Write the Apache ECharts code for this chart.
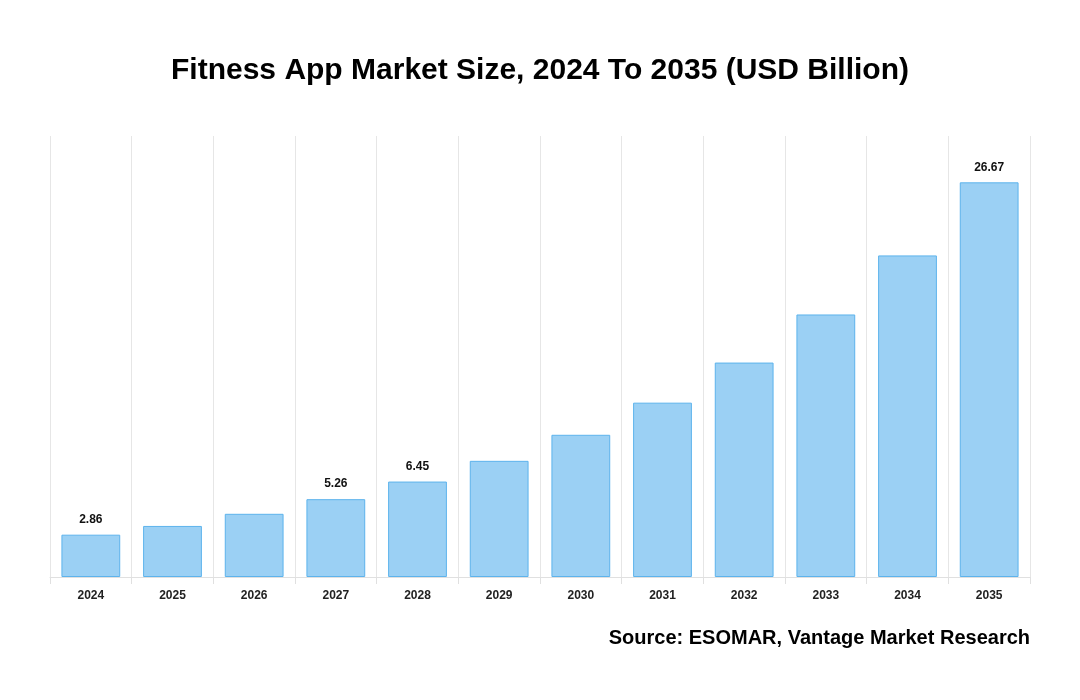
<!DOCTYPE html>
<html><head><meta charset="utf-8">
<script src="https://cdn.jsdelivr.net/npm/echarts@6/dist/echarts.min.js"></script>
<style>html,body{margin:0;padding:0;background:#fff}#c{width:1080px;height:700px}</style>
</head><body><div id="c"></div>
<script>
const categories = ['2024','2025','2026','2027','2028','2029','2030','2031','2032','2033','2034','2035'];
const values = [2.86, 3.45, 4.27, 5.26, 6.45, 7.85, 9.61, 11.78, 14.49, 17.74, 21.73, 26.67];
const labelledYears = ['2024','2027','2028','2035'];

const chart = echarts.init(document.getElementById('c'));
const FONT = '"Liberation Sans", Arial, sans-serif';
chart.setOption({
  animation: false,
  backgroundColor: '#fff',
  title: {
    text: 'Fitness App Market Size, 2024 To 2035 (USD Billion)',
    left: 'center', top: 51,
    textStyle: { fontFamily: FONT, fontSize: 30, fontWeight: 'bold', color: '#000' }
  },
  graphic: [{
    type: 'text', right: 50, top: 628,
    style: { text: 'Source: ESOMAR, Vantage Market Research', font: 'bold 20px ' + FONT, fill: '#000' }
  }],
  grid: { left: 50, right: 50, top: 136, bottom: 123 },
  xAxis: {
    type: 'category', data: categories,
    axisLine: { show: true, lineStyle: { color: '#e0e0e0' } },
    axisTick: { show: true, length: 7, lineStyle: { color: '#e0e0e0' } },
    splitLine: { show: true, lineStyle: { color: '#e6e6e6' } },
    axisLabel: { fontFamily: FONT, fontSize: 12, fontWeight: 'bold', color: '#222', margin: 13 }
  },
  yAxis: { type: 'value', min: 0, max: 29.8, show: false, splitLine: { show: false } },
  series: [{
    type: 'bar', barWidth: '72%',
    data: values.map((v, i) => ({
      value: v,
      label: { show: labelledYears.includes(categories[i]) }
    })),
    itemStyle: { color: '#9bd0f4', borderColor: '#5db3ec', borderWidth: 1 },
    label: { position: 'top', distance: 9, fontFamily: FONT, fontSize: 12, fontWeight: 'bold', color: '#111' }
  }]
});
</script></body></html>
